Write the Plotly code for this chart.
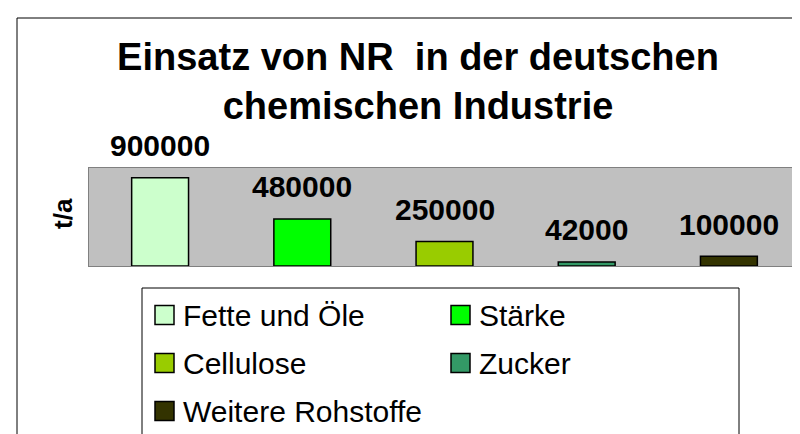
import plotly.graph_objects as go

categories = ["Fette und Öle", "Stärke", "Cellulose", "Zucker", "Weitere Rohstoffe"]
values = [900000, 480000, 250000, 42000, 100000]
colors = ["#CCFFCC", "#00FF00", "#99CC00", "#339966", "#333300"]
title_text = "Einsatz von NR  in der deutschen<br>chemischen Industrie"
y_title = "t/a"

W, H = 800, 434
ML, MR, MT, MB = 81, 8, 160, 176
PW, PH = W - ML - MR, H - MT - MB
FONT = "Liberation Sans, Arial, sans-serif"

def px(x):
    return (x - ML) / PW

def py(y):
    return (H - MB - y) / PH

fig = go.Figure()
for name, v, c in zip(categories, values, colors):
    fig.add_trace(go.Bar(
        x=[name], y=[v], name=name, width=0.4,
        marker=dict(color=c, line=dict(color="black", width=1.5)),
        showlegend=False, hoverinfo="x+y",
    ))
    fig.add_annotation(x=name, y=v, xref="x", yref="y", text=str(v),
                       showarrow=False, yanchor="middle", yshift=32,
                       font=dict(family=FONT, size=30, color="black", weight="bold"))

shapes = []
# outer chart frame (extends beyond the visible window)
shapes.append(dict(type="rect", xref="paper", yref="paper",
                   x0=px(9), x1=px(830), y0=py(460), y1=py(10),
                   line=dict(color="black", width=1), fillcolor="rgba(0,0,0,0)", layer="below"))
# legend box
shapes.append(dict(type="rect", xref="paper", yref="paper",
                   x0=px(134), x1=px(731), y0=py(429), y1=py(280),
                   line=dict(color="black", width=1), fillcolor="white"))

col_sw = [147, 443]
col_tx = [173, 469]
row_y = [307, 355, 403]
sw = 19
for i, (name, c) in enumerate(zip(categories, colors)):
    r, k = divmod(i, 2)
    cy = row_y[r]
    shapes.append(dict(type="rect", xref="paper", yref="paper",
                       x0=px(col_sw[k]), x1=px(col_sw[k] + sw),
                       y0=py(cy + sw / 2), y1=py(cy - sw / 2),
                       line=dict(color="black", width=1.5), fillcolor=c))
    fig.add_annotation(x=px(col_tx[k]), y=py(cy), xref="paper", yref="paper",
                       text=name, showarrow=False, xanchor="left", yanchor="middle",
                       font=dict(family=FONT, size=30, color="black"))

# y-axis title
fig.add_annotation(x=px(55), y=py(206), xref="paper", yref="paper", text=y_title,
                   textangle=-90, showarrow=False, xanchor="center", yanchor="middle",
                   font=dict(family=FONT, size=26, color="black", weight="bold"))

fig.update_layout(
    width=W, height=H,
    margin=dict(l=ML, r=MR, t=MT, b=MB, pad=0),
    paper_bgcolor="white", plot_bgcolor="#C0C0C0",
    barmode="overlay", showlegend=False,
    shapes=shapes,
    title=dict(text=title_text, x=410 / W, xanchor="center", xref="container",
               y=1 - 62 / H, yanchor="top", yref="container",
               font=dict(family=FONT, size=38, color="black", weight="bold")),
    xaxis=dict(showticklabels=False, ticks="", showgrid=False, zeroline=False,
               showline=True, mirror=True, linecolor="#808080", linewidth=1,
               range=[-0.5, 4.5]),
    yaxis=dict(showticklabels=False, ticks="", showgrid=False, zeroline=False,
               showline=True, mirror=True, linecolor="#808080", linewidth=1,
               range=[0, 1000000]),
)

fig.write_html("out.html")
